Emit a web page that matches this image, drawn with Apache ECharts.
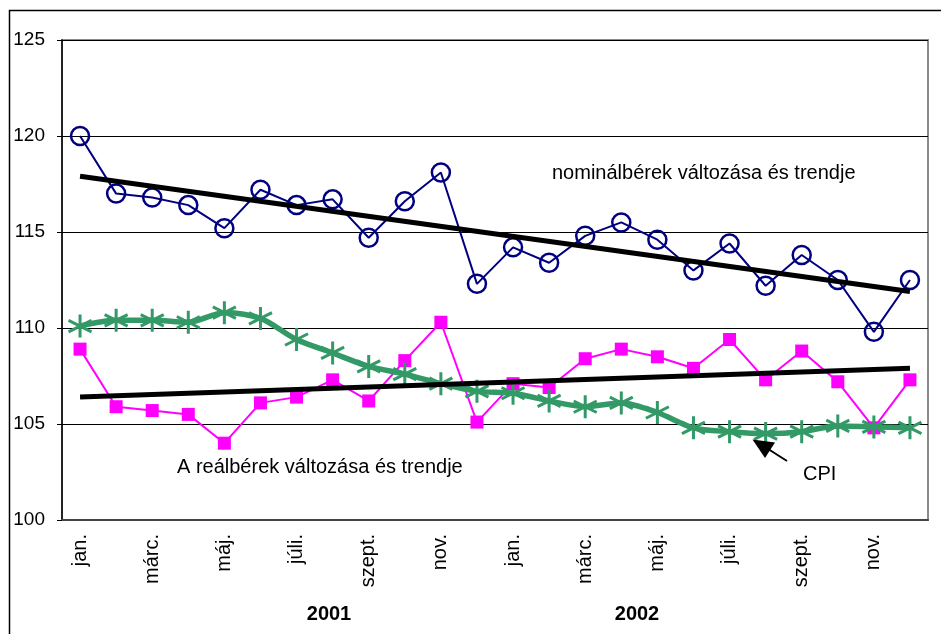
<!DOCTYPE html>
<html>
<head>
<meta charset="utf-8">
<script src="https://cdn.jsdelivr.net/npm/echarts@6/dist/echarts.min.js"></script>
<style>
  html, body { margin: 0; padding: 0; background: #fff; }
  #chart { width: 941px; height: 634px; }
</style>
</head>
<body>
<div id="chart"></div>
<script>
// havi kategóriák, 2001 jan. - 2002 dec.
var months = ['jan.', 'febr.', 'márc.', 'ápr.', 'máj.', 'jún.', 'júli.', 'aug.', 'szept.', 'okt.', 'nov.', 'dec.']
var categories = months.concat(months)

var nominal = [120.0, 117.0, 116.8, 116.4, 115.2, 117.2, 116.4, 116.7, 114.7, 116.6, 118.1, 112.3,
               114.2, 113.4, 114.8, 115.5, 114.6, 113.0, 114.4, 112.2, 113.8, 112.5, 109.8, 112.5]
var real = [108.9, 105.9, 105.7, 105.5, 104.0, 106.1, 106.4, 107.3, 106.2, 108.3, 110.3, 105.1,
            107.1, 106.9, 108.4, 108.9, 108.5, 107.9, 109.4, 107.3, 108.8, 107.2, 104.8, 107.3]
var cpi = [110.1, 110.4, 110.4, 110.3, 110.8, 110.5, 109.4, 108.7, 108.0, 107.6, 107.1, 106.7,
           106.6, 106.2, 105.9, 106.1, 105.6, 104.8, 104.6, 104.5, 104.6, 104.9, 104.85, 104.8]
// trendvonalak végpontjai [index, érték]
var nominalTrend = [[0, 117.9], [23, 111.9]]
var realTrend = [[0, 106.4], [23, 107.9]]

var yearLabels = ['2001', '2002']

var font = 'Arial, "Liberation Sans", sans-serif'
var green = '#339966'
var asterisk = 'path://M0,-10L0,10M-8.7,-5L8.7,5M-8.7,5L8.7,-5'

var chart = echarts.init(document.getElementById('chart'))
chart.setOption({
    animation: false,
    backgroundColor: '#fff',
    grid: {
        left: 62, right: 13, top: 40, bottom: 114,
        show: true, borderColor: '#8a8a8a', borderWidth: 2
    },
    xAxis: {
        type: 'category',
        data: categories,
        boundaryGap: true,
        axisLine: { lineStyle: { color: '#444', width: 2 } },
        axisTick: { interval: 0, length: 5, lineStyle: { color: '#000' } },
        axisLabel: {
            interval: 1, rotate: 90, margin: 14,
            color: '#000', fontSize: 20, fontFamily: font
        },
        splitLine: { show: false }
    },
    yAxis: {
        type: 'value',
        min: 100, max: 125, interval: 5,
        axisLine: { show: true, lineStyle: { color: '#000', width: 1.5 } },
        axisTick: { show: true, length: 5, lineStyle: { color: '#000' } },
        axisLabel: { margin: 17, color: '#000', fontSize: 19, fontFamily: font },
        splitLine: { lineStyle: { color: '#000', width: 1 } }
    },
    series: [
        {
            name: 'nominálbérek',
            type: 'line',
            data: nominal,
            symbol: 'circle',
            symbolSize: 18,
            lineStyle: { color: '#000080', width: 2 },
            itemStyle: { color: 'rgba(0,0,0,0)', borderColor: '#000080', borderWidth: 2.5 },
            z: 3
        },
        {
            name: 'reálbérek',
            type: 'line',
            data: real,
            symbol: 'rect',
            symbolSize: 13,
            lineStyle: { color: '#ff00ff', width: 2 },
            itemStyle: { color: '#ff00ff' },
            z: 3
        },
        {
            name: 'CPI',
            type: 'line',
            data: cpi,
            smooth: 0.3,
            symbol: asterisk,
            symbolSize: 23,
            lineStyle: { color: green, width: 5.5 },
            itemStyle: { color: green, borderColor: green, borderWidth: 3 },
            z: 4
        },
        {
            name: 'nominál trend',
            type: 'line',
            data: nominalTrend,
            symbol: 'none',
            lineStyle: { color: '#000', width: 5 },
            z: 5
        },
        {
            name: 'reál trend',
            type: 'line',
            data: realTrend,
            symbol: 'none',
            lineStyle: { color: '#000', width: 5 },
            z: 5
        }
    ],
    graphic: [
        {
            type: 'rect', silent: true, z: 0,
            shape: { x: 9.5, y: 10.5, width: 960, height: 660 },
            style: { fill: 'none', stroke: '#000', lineWidth: 1.5 }
        },
        {
            type: 'text', left: 552, top: 163, z: 10,
            style: { text: 'nominálbérek változása és trendje', fill: '#000', font: '20px ' + font }
        },
        {
            type: 'text', left: 177, top: 457, z: 10,
            style: { text: 'A reálbérek változása és trendje', fill: '#000', font: '20px ' + font }
        },
        {
            type: 'text', left: 803, top: 464, z: 10,
            style: { text: 'CPI', fill: '#000', font: '20px ' + font }
        },
        {
            type: 'line', z: 10,
            shape: { x1: 787, y1: 461, x2: 765, y2: 447 },
            style: { stroke: '#000', lineWidth: 2 }
        },
        {
            type: 'polygon', z: 10,
            shape: { points: [[752.5, 439.5], [775, 442.5], [765, 458]] },
            style: { fill: '#000' }
        },
        {
            type: 'text', x: 329, y: 614, z: 10,
            style: { text: yearLabels[0], fill: '#000', font: 'bold 20px ' + font, align: 'center', verticalAlign: 'middle' }
        },
        {
            type: 'text', x: 637, y: 614, z: 10,
            style: { text: yearLabels[1], fill: '#000', font: 'bold 20px ' + font, align: 'center', verticalAlign: 'middle' }
        }
    ]
})
</script>
</body>
</html>
